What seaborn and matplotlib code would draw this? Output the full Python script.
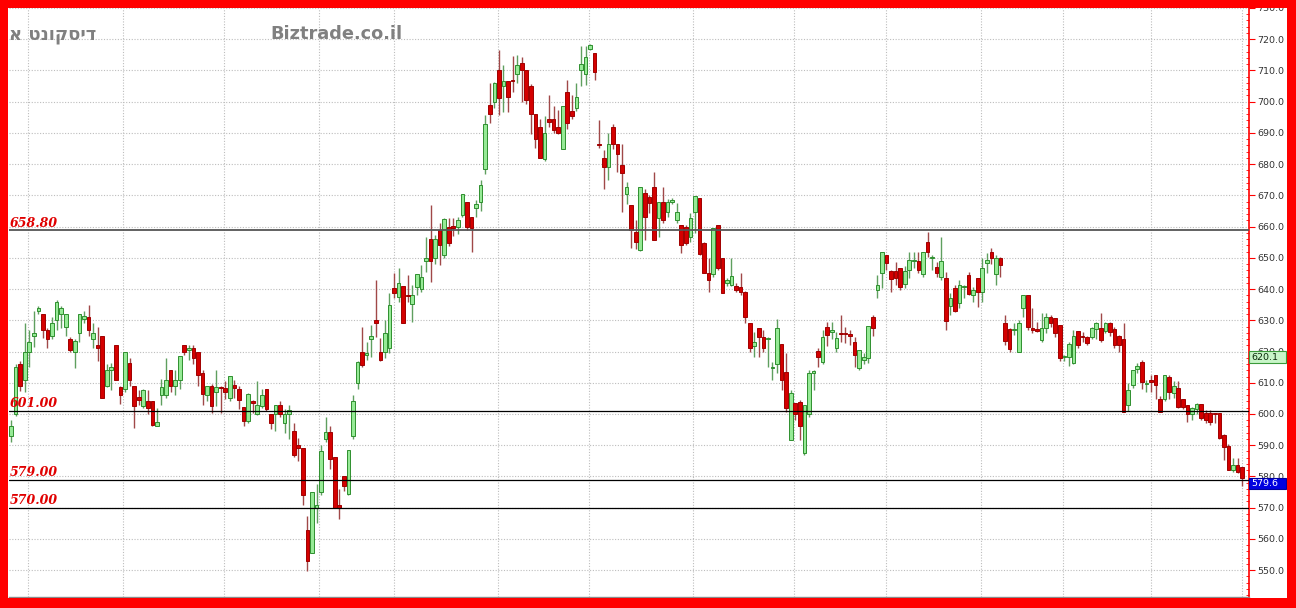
import numpy as np
import pandas as pd
import matplotlib
matplotlib.use("Agg")
import matplotlib.pyplot as plt
import seaborn as sns
from matplotlib.patches import Rectangle
from matplotlib.ticker import MultipleLocator, FormatStrFormatter
from matplotlib.transforms import blended_transform_factory

# daily candles (oldest first)
opens = [
    593, 600, 616, 611, 620, 625, 633, 632, 627, 625, 630, 632, 628, 624, 620, 626, 630.5, 631, 624, 622,
    625, 609, 614.2, 622, 608.6, 608, 616.3, 609, 605.4, 602.6, 604, 604, 596, 606, 606, 614, 609, 611, 622, 620.4,
    621, 620,
    613, 606, 609, 607, 608.7, 608.4, 605, 609.4, 608, 602.3, 597.7, 604.3, 600, 602.7, 608, 600, 600, 603, 597, 600,
    594.5, 590, 589.2, 563, 555.6, 570, 575, 592, 594.2, 586.3, 571, 580.3, 574.3, 593,
    610, 620, 619, 624, 630, 620, 620, 621, 640.2, 637.5, 641, 638, 635.2, 640.7, 640, 649, 656, 649.8, 659, 651,
    660, 660, 660, 663.7, 668, 663, 666.1, 668,
    678.6, 699, 700, 710.3, 705, 706.7, 706.9, 708.8, 712.4, 710.3, 705, 696, 692, 681.8, 694.6, 694.3, 692, 685,
    703.2, 697, 698, 710, 708.8, 717, 715.6, 686.6, 682, 679, 692, 686.6, 679.7, 670.6,
    666.9, 658.3, 652.5, 670.8, 669.5, 672.7, 662.6, 668, 664.7, 668, 662, 660.5, 660, 656.7, 664.7, 669.3, 654.6,
    645, 644.8, 660.5, 649.8, 642, 641.2, 640.9, 640.7,
    639.1, 629, 621.8, 627.4, 624.7, 624, 614.8, 616, 622.4, 613.5, 591.6, 603.6, 603.9, 587.4, 600, 613.2, 620.1,
    616.7, 627.9, 626.1, 621, 626, 625.8, 625.6, 622.9, 614.6, 617.3, 617.8, 631.1, 639.7, 645.2, 650.8,
    645.8, 645.8, 646.9, 641.6, 646, 648.9, 649.1, 644.8, 655.1, 649.9, 647.1, 643.9, 643.7, 634.5, 640.2, 635.4,
    640.6, 644.5, 638, 643.7, 639.1, 648.2, 651.9, 644.8, 649.8,
    629.2, 627.1, 626.8, 620, 633.8, 638.1, 627.4, 627.1, 623.7, 627.4, 630.9, 630.6, 628.5, 618.1, 618.1, 616.4,
    626.6, 625, 624.7, 624.7, 627.1, 627.4, 626.6, 629, 627.1, 625, 623.9, 602.9, 609.3, 614.3, 616.7, 609.7,
    610.8, 612.4, 604.7, 604.7, 611.9, 606.8, 608.2, 604.7, 602.8, 600, 601.5, 603.1, 600.2, 600.2, 600.1, 600.2,
    593.2, 589.7, 582, 583.6, 582.9,
]
highs = [
    598, 616, 617, 629, 627, 633, 634.5, 632, 627.5, 631, 636.5, 634.5, 632, 624.6, 624, 632, 633, 635, 629, 628,
    625, 616, 616.3, 622, 609, 620, 618, 609, 607.8, 608, 607.8, 604, 602, 611.2, 618, 614, 614, 618.5, 622, 622,
    622, 620,
    614, 609, 609.5, 614, 609, 610.5, 612.3, 611, 609, 602.3, 606.6, 604.5, 610.5, 608, 608, 600, 603, 604, 601.7, 603,
    597, 592.4, 589.2, 567.3, 575, 577.5, 590, 599, 596, 586.3, 576, 580.3, 588.4, 606,
    617, 628, 623, 628.5, 643, 624.2, 630, 638.6, 645.2, 646.6, 641, 644.5, 641.3, 644.7, 647.7, 656.7, 667, 657.3,
    661, 662.6, 662.6, 662.6, 663, 670.4, 668, 663, 668.5, 675,
    695.7, 706, 706.2, 716.7, 711.7, 706.7, 714.6, 714.9, 714.4, 710.3, 705.8, 696, 694.3, 695.3, 702, 698.5, 697.3,
    698.5, 706.9, 702, 706, 717.8, 717.8, 718.6, 715.6, 694, 684.5, 690, 692.8, 686.6, 686.6, 674.3,
    667, 662, 672.7, 672.2, 670, 677.5, 668, 672.7, 668.7, 669.3, 667.6, 660.5, 660.5, 664.2, 669.7, 669.3, 655,
    649.8, 659.7, 660.5, 649.8, 643.4, 649.8, 641.8, 645,
    639.5, 629, 626.3, 627.4, 626.8, 624.6, 616.7, 630.3, 622.4, 619.4, 607.6, 603.6, 604.4, 603, 614, 614, 621,
    626.8, 629.5, 629.5, 626.3, 631.6, 628, 626.8, 624.7, 620.4, 619.4, 628.1, 631.6, 644.5, 651.9, 650.8,
    646, 648.7, 646.9, 647.3, 651.9, 651.9, 651.9, 652, 658.3, 650.9, 648.7, 656.7, 645.5, 638.6, 641.3, 642.9,
    641.3, 645.5, 640.7, 643.7, 649.8, 651.4, 653, 650.9, 650.3,
    631.7, 627.5, 629.2, 630, 638.1, 638.1, 633.8, 629.5, 632.4, 632.2, 631.7, 630.6, 628.5, 618.9, 623.1, 626.9,
    626.6, 626.3, 624.9, 627.9, 629.5, 632.4, 629.5, 629.5, 627.9, 625.3, 629.2, 609.8, 614.1, 616.2, 617.2, 610.9,
    612.4, 612.4, 605.7, 612.6, 612.4, 610.6, 610.6, 604.7, 602.8, 602.3, 603.6, 603.1, 601.2, 601.2, 600.4, 600.2,
    593.6, 590.5, 585.8, 585.8, 582.9,
]
lows = [
    591, 599.5, 607.5, 607, 615, 621.5, 632, 624.3, 621, 624, 627, 627.5, 625, 620, 614.7, 623, 629, 625, 621, 617,
    605, 608.5, 607.8, 611, 603.3, 607, 609, 595.5, 603, 602, 600, 596, 596, 603, 605, 607, 606, 608, 619, 617.4,
    616, 609,
    603, 604, 600.4, 602.5, 600.4, 604.7, 604, 605, 601.7, 596, 597, 600.4, 599.8, 602, 601, 595.3, 594.5, 599, 594, 592,
    586.3, 585, 571, 549.7, 555.6, 565.2, 574, 591, 582.3, 570, 566.3, 575.3, 574, 592,
    608, 615, 617.3, 618.3, 624.7, 617, 618, 619.4, 637, 636, 629, 636, 629.5, 638, 639, 645.5, 642.3, 648,
    647.7, 650, 653.7, 657, 657.7, 663, 659, 652, 663, 665,
    677, 693.2, 698, 695.7, 696.7, 696.8, 703, 706, 700, 699.4, 689.8, 685.3, 682, 681, 692, 690, 689.5,
    685, 691.4, 694.6, 697, 705, 705.3, 716.5, 707, 685.3, 672, 675, 685, 677.5, 664.7, 667.4,
    653, 652.7, 652.3, 655.7, 664.4, 655.7, 656.7, 661, 663, 667.2, 661, 651.4, 654, 655, 658, 651, 645,
    639.1, 644, 646, 638.8, 641, 641, 639, 638,
    629, 620, 618.3, 618.3, 619.9, 615, 610.8, 613, 607.6, 600.7, 591.6, 598, 591.6, 586.8, 599, 607.6, 615.1,
    616, 621.7, 624, 620, 623.1, 622.8, 622, 615.1, 614, 616, 616.2, 624.9, 637, 640.2, 646,
    639.1, 641.3, 639.7, 640.2, 643.7, 646.6, 645, 644, 650.3, 646, 644, 643, 626.9, 631.6, 632.7, 633.8,
    637.3, 638, 636, 634.1, 635.9, 645, 648, 641.3, 643.9,
    622, 620, 625.3, 620, 631.1, 627, 626, 626.3, 623, 626, 628, 624.7, 617, 617, 615.3, 616,
    621, 623.1, 622.1, 624, 624, 623, 625.8, 625, 621, 620, 600.7, 601, 608.2, 613, 608, 607,
    607.1, 604.7, 600.5, 604, 604.7, 605, 602, 601.5, 597.5, 598, 600, 598, 597, 596.4, 597, 592,
    585.4, 582, 581.5, 581, 577,
]
closes = [
    596, 615, 609, 620, 623, 626, 634, 627, 624, 629, 636, 634, 632, 620.5, 623.5, 632, 631.3, 627, 626, 621,
    605, 614, 615, 611, 606, 620, 611, 602.6, 604.6, 607.8, 602, 596.4, 597.3, 608.6, 611, 609, 611, 618.5, 620, 621,
    618, 612.6,
    606.3, 609, 602.7, 608.7, 608.3, 607, 612.3, 608.3, 604.5, 597.7, 606.3, 603.6, 603, 606, 601.7, 597, 603, 600,
    600, 601.2, 587, 589, 574, 553, 575, 570.7, 588, 594.2, 585.5, 570, 570, 577, 588.4, 604,
    616.7, 615.7, 619.6, 625, 629, 617.3, 626, 635, 638.6, 641.8, 629, 637.7, 638, 644.7, 644, 649.8, 649, 656,
    654, 662.3, 654.6, 659.7, 662, 670.4, 660, 659.4, 667.2, 673.3,
    693, 696, 706, 701.3, 706.7, 701.5, 706.6, 711.7, 710, 700.5, 696.2, 688, 682, 690, 693.5, 691, 690,
    698.5, 693.2, 695.4, 701.5, 712.2, 714.3, 718.1, 709.5, 686.1, 679, 686.4, 686.6, 683.2, 677.2, 672.7,
    658.9, 655.1, 672.7, 663.1, 667.6, 655.7, 668, 662, 668, 668.5, 664.7, 654.1, 654.8, 662.6, 669.7, 651.2, 645.2,
    642.8, 659.7, 646.6, 638.8, 642.8, 644.1, 639.6, 639.1,
    631.1, 621, 622.9, 624.7, 621, 624.4, 615.1, 627.4, 611, 601.8, 606.8, 600, 596, 602.8, 613.2, 613.8, 618.1,
    624.7, 625.2, 626.8, 624.2, 625.6, 625.5, 625, 618.8, 620.4, 618.3, 628.1, 627.4, 641.3, 651.9, 648.2,
    643.1, 643.7, 640.7, 645.8, 649.3, 649.1, 646, 651.9, 651.9, 650.1, 645, 649.1, 629.8, 637, 633, 641.3,
    640.8, 638.4, 639.7, 639.1, 646.6, 649.3, 649.8, 650.1, 647.7,
    623.4, 620.7, 627, 629.2, 638.1, 627.9, 626.9, 626.6, 627.4, 631.1, 629, 625.8, 617.8, 618.5, 622.4, 625,
    622.1, 624.5, 622.8, 627.4, 629.2, 623.7, 629.2, 626.3, 622.1, 622.1, 600.7, 607.6, 614.1, 615.3, 610.3, 609.9,
    610.3, 609.2, 600.7, 612.4, 607.1, 609, 602.3, 602.3, 600, 601.8, 603.1, 598.6, 598, 597.5, 599.9, 592.2,
    589.3, 582, 583.6, 581.5, 579.6,
]

levels = [658.80, 601.00, 579.00, 570.00]
marker_values = [620.1, 579.6]
month_lines = [3.7, 24.6, 46.7, 67.5, 84, 106.8, 126.8, 149.6, 171.8, 191.8, 212.7, 230.8, 249.9, 269.9]
title_text = "דיסקונט א"
site_text = "Biztrade.co.il"

assert len(opens) == len(highs) == len(lows) == len(closes)

df = pd.DataFrame({"open": opens, "high": highs, "low": lows, "close": closes})
df["x"] = np.arange(len(df))
df["up"] = df["close"] >= df["open"]
df["bottom"] = df[["open", "close"]].min(axis=1)
df["body"] = (df["close"] - df["open"]).abs().clip(lower=0.35)

sns.set_style("white")
plt.rcParams["font.family"] = ["DejaVu Sans", "Noto Sans"]

W, H = 1296, 608
fig = plt.figure(figsize=(W / 100, H / 100), dpi=100)
fig.patch.set_facecolor("white")
ax = fig.add_axes([9 / W, 11 / H, 1240 / W, 589 / H])
ax.set_facecolor("white")

# candles
green, green_edge = "#96ea96", "#2f8f2f"
red, red_edge = "#d40000", "#a00000"
up = df[df["up"]]
dn = df[~df["up"]]
ax.vlines(up["x"], up["low"], up["high"], color="#5f9f5f", lw=1, zorder=2)
ax.vlines(dn["x"], dn["low"], dn["high"], color="#a04848", lw=1, zorder=2)
ax.bar(up["x"], up["body"], bottom=up["bottom"], width=0.8, color=green,
       edgecolor=green_edge, linewidth=0.7, zorder=3)
ax.bar(dn["x"], dn["body"], bottom=dn["bottom"], width=0.8, color=red,
       edgecolor=red_edge, linewidth=0.7, zorder=3)

# support / resistance lines
for lv in levels:
    ax.axhline(lv, color="#555555" if lv > 650 else "black",
               lw=1.3 if lv > 650 else 0.9, zorder=4)
    ax.annotate(f"{lv:.2f}", xy=(0, lv), xycoords=("axes fraction", "data"),
                xytext=(0.5, 2.5), textcoords="offset points", ha="left", va="baseline",
                fontsize=9, family="DejaVu Serif", style="italic", weight="bold",
                color="#e00000", zorder=5)

ax.set_xlim(-0.44, len(df) + 0.5)
ax.set_ylim(541.4, 730)

ax.yaxis.tick_right()
ax.yaxis.set_major_locator(MultipleLocator(10))
ax.yaxis.set_minor_locator(MultipleLocator(2))
ax.yaxis.set_major_formatter(FormatStrFormatter("%.1f"))
ax.tick_params(axis="y", which="major", direction="out", length=4, width=0.8,
               color="#ff0000", pad=2, labelsize=6.8, labelcolor="#333333")
ax.tick_params(axis="y", which="minor", direction="in", length=2.5, width=0.6, color="#ff0000")
ax.set_xticks(month_lines)
ax.tick_params(axis="x", length=0, labelbottom=False)

ax.grid(True, axis="both", which="major", color="#bdbdbd", lw=0.8, ls=(0, (1, 1.5)), zorder=0)
ax.set_axisbelow(True)

for side in ["left", "top"]:
    ax.spines[side].set_visible(False)
ax.spines["right"].set_color("#ff0000")
ax.spines["right"].set_linewidth(1.2)
ax.spines["bottom"].set_color("#8a8a8a")
ax.spines["bottom"].set_linewidth(1)

# value boxes at the right
trans = blended_transform_factory(ax.transAxes, ax.transData)
box_h = 11.6 * (730 - 541.4) / 589
box_w = 37 / 1240
for v, face, edge, tc in [(marker_values[0], "#c8f5c8", "#3a9a3a", "#0a2a0a"),
                          (marker_values[1], "#0000e0", "#0000a0", "white")]:
    ax.add_patch(Rectangle((1.0, v - box_h), box_w, box_h, transform=trans,
                           facecolor=face, edgecolor=edge, lw=0.8, clip_on=False, zorder=6))
    ax.text(1.0 + 2 / 1240, v - box_h / 2, f"{v:.1f}", transform=trans, ha="left",
            va="center", fontsize=6.8, color=tc, zorder=7, clip_on=False)

# header texts (matplotlib has no bidi, so the Hebrew is given in visual order)
fig.text(9 / W, 1 - 39 / H, title_text[::-1], fontsize=13, weight="bold",
         color="#808080", va="baseline", ha="left", family=["DejaVu Sans", "Noto Sans"])
fig.text(270 / W, 1 - 39 / H, site_text, fontsize=12.8, weight="bold",
         color="#808080", va="baseline", ha="left")

# red frame around the picture
for (x0, y0, w, h) in [(0, 0, 1, 10 / H), (0, 1 - 8 / H, 1, 8 / H),
                       (0, 0, 8 / W, 1), (1 - 9 / W, 0, 9 / W, 1)]:
    fig.add_artist(Rectangle((x0, y0), w, h, transform=fig.transFigure,
                             facecolor="#ff0000", edgecolor="none", zorder=20))

fig.savefig("out.png", dpi=100)
